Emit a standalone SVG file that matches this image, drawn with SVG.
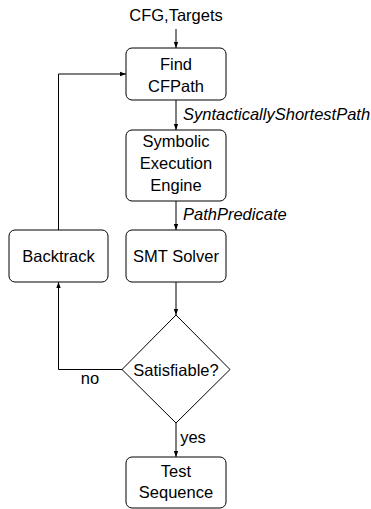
<svg xmlns="http://www.w3.org/2000/svg" width="371" height="509" viewBox="0 0 371 509">
<style>
.box{fill:#fff;stroke:#000;stroke-width:1}
.t{font-family:"Liberation Sans","DejaVu Sans",sans-serif;font-size:16.5px;fill:#000;text-anchor:middle}
.i{font-family:"Liberation Sans","DejaVu Sans",sans-serif;font-size:16.5px;font-style:italic;fill:#000}
.c{fill:none;stroke:#000;stroke-width:1}
</style>
<defs>
<marker id="a" viewBox="0 0 6 6" refX="6" refY="3" markerWidth="6" markerHeight="6" orient="auto" markerUnits="userSpaceOnUse">
<path d="M0,0.8 L6,3 L0,5.2 Z" fill="#000"/>
</marker>
</defs>
<g id="connectors">
<path class="c" d="M176,29 V48" marker-end="url(#a)"/>
<path class="c" d="M176,100 V130" marker-end="url(#a)"/>
<path class="c" d="M176,201 V230" marker-end="url(#a)"/>
<path class="c" d="M176,282 V315" marker-end="url(#a)"/>
<path class="c" d="M176,423 V457" marker-end="url(#a)"/>
<path class="c" d="M123,369.5 H58.5 V282" marker-end="url(#a)"/>
<path class="c" d="M58.5,230 V74 H126" marker-end="url(#a)"/>
<text class="i" x="183" y="120">SyntacticallyShortestPath</text>
<text class="i" x="183" y="220">PathPredicate</text>
<text class="t" x="90" y="384">no</text>
<text class="t" x="193" y="443">yes</text>
</g>
<g id="input"><text class="t" x="176" y="21">CFG,Targets</text></g>
<g id="find"><rect class="box" x="126" y="48" width="100" height="52" rx="6"/>
<text class="t" x="176" y="70">Find</text><text class="t" x="176" y="92">CFPath</text></g>
<g id="symbolic"><rect class="box" x="126" y="130" width="100" height="71" rx="6"/>
<text class="t" x="176" y="147">Symbolic</text><text class="t" x="176" y="169">Execution</text><text class="t" x="176" y="191">Engine</text></g>
<g id="smt"><rect class="box" x="126" y="230" width="100" height="52" rx="6"/>
<text class="t" x="176" y="262">SMT Solver</text></g>
<g id="backtrack"><rect class="box" x="9" y="230" width="99" height="52" rx="6"/>
<text class="t" x="58.5" y="262">Backtrack</text></g>
<g id="satisfiable"><path class="box" d="M176,315 L230,369.5 L176,423 L122,369.5 Z"/>
<text class="t" x="176" y="376">Satisfiable?</text></g>
<g id="test"><rect class="box" x="126" y="457" width="100" height="51" rx="6"/>
<text class="t" x="176" y="477">Test</text><text class="t" x="176" y="498">Sequence</text></g>
</svg>
